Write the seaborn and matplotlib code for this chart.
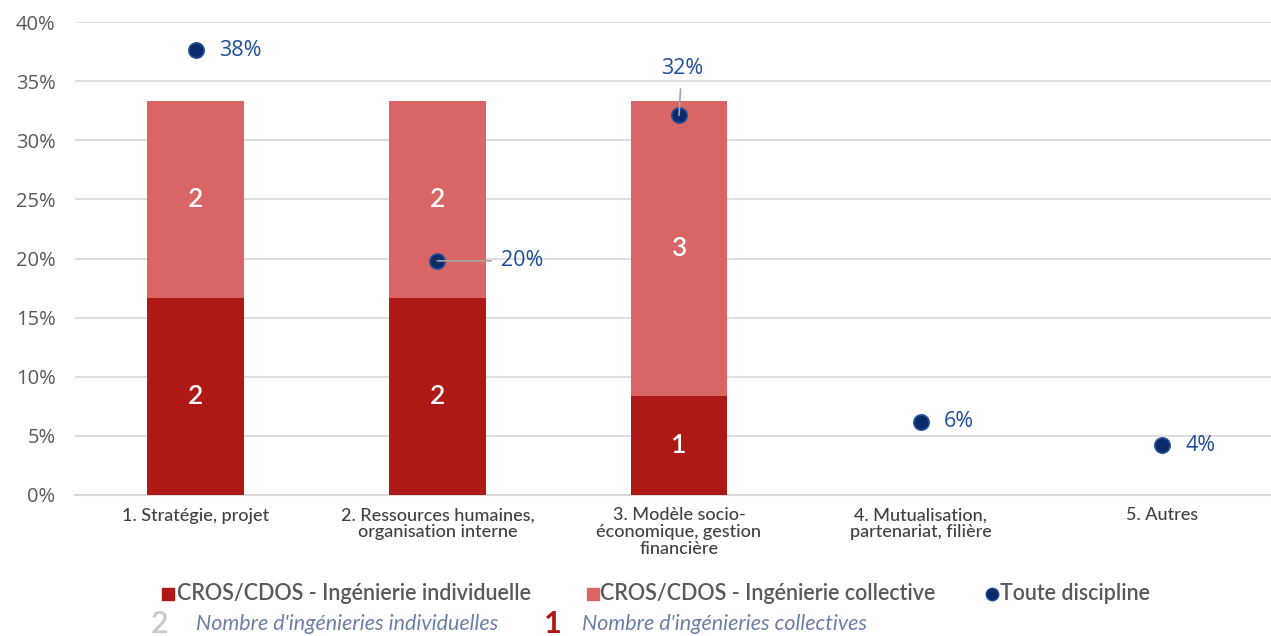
import numpy as np
import matplotlib.pyplot as plt
import seaborn as sns
from matplotlib.lines import Line2D

# Data
categories = ["1. Stratégie, projet",
              "2. Ressources humaines,\norganisation interne",
              "3. Modèle socio-\néconomique, gestion\nfinancière",
              "4. Mutualisation,\npartenariat, filière",
              "5. Autres"]
nb_individuelles = [2, 2, 1, 0, 0]
nb_collectives = [2, 2, 3, 0, 0]
toute_discipline = [37.6, 19.8, 32.1, 6.2, 4.2]
toute_labels = ["38%", "20%", "32%", "6%", "4%"]

total_ing = sum(nb_individuelles) + sum(nb_collectives)
pct_indiv = [n / total_ing * 100 for n in nb_individuelles]
pct_coll = [n / total_ing * 100 for n in nb_collectives]
pct_total = [a + b for a, b in zip(pct_indiv, pct_coll)]

DARK_RED = "#AE1916"
PINK = "#D96565"
NAVY = "#0B2A6A"
LABEL_BLUE = "#1F4E9A"
GRAY_TXT = "#595959"

sns.set_theme(style="white")
plt.rcParams['font.family'] = ['Lato', 'DejaVu Sans']

fig = plt.figure(figsize=(12.71, 6.36), dpi=100)
ax = fig.add_axes([75 / 1271, 141 / 636, 1208 / 1271, 473 / 636])

# stacked bars: total (collective on top) then individual over it
sns.barplot(x=categories, y=pct_total, color=PINK, width=0.4, saturation=1, ax=ax,
            linewidth=0, zorder=2)
sns.barplot(x=categories, y=pct_indiv, color=DARK_RED, width=0.4, saturation=1, ax=ax,
            linewidth=0, zorder=3)

sns.scatterplot(x=categories, y=toute_discipline, color=NAVY, s=120, edgecolor=LABEL_BLUE,
                linewidth=1.2, ax=ax, zorder=5)

# counts inside bars
for i in range(len(categories)):
    if nb_individuelles[i]:
        ax.text(i, pct_indiv[i] / 2, str(nb_individuelles[i]), ha='center', va='center',
                color='white', fontsize=19, fontweight='semibold', zorder=6)
    if nb_collectives[i]:
        ax.text(i, pct_indiv[i] + pct_coll[i] / 2, str(nb_collectives[i]), ha='center',
                va='center', color='white', fontsize=19, fontweight='semibold', zorder=6)

# point labels
offsets = [(17, 0, 'left', 'center', False),
           (46, 0, 'left', 'center', True),
           (2, 34, 'center', 'center', True),
           (17, 0, 'left', 'center', False),
           (17, 0, 'left', 'center', False)]
for i, (dx, dy, ha, va, lead) in enumerate(offsets):
    arrow = dict(arrowstyle='-', color='#A6A6A6', lw=1.2, shrinkA=5, shrinkB=0) if lead else None
    ax.annotate(toute_labels[i], xy=(i, toute_discipline[i]), xytext=(dx, dy),
                textcoords='offset points', ha=ha, va=va, fontsize=15.5, color=LABEL_BLUE,
                family=['Open Sans', 'DejaVu Sans'], fontweight='medium',
                arrowprops=arrow, zorder=6)

ax.set_ylim(0, 40)
ax.set_xlim(-0.5, 4.5)
ax.set_yticks(np.arange(0, 41, 5))
ax.set_yticklabels([f"{v}%" for v in range(0, 41, 5)], fontsize=14.5, color=GRAY_TXT,
                   family=['Open Sans', 'DejaVu Sans'], fontweight='medium')
ax.tick_params(axis='x', labelsize=13, colors='#404040', pad=9, length=0)
ax.tick_params(axis='y', length=0, pad=14)
for lbl in ax.get_xticklabels():
    lbl.set_linespacing(1.05)
    lbl.set_fontweight('medium')
ax.yaxis.grid(True, color='#D9D9D9', lw=1.2, zorder=0)
ax.set_axisbelow(True)
for s in ['top', 'right', 'left']:
    ax.spines[s].set_visible(False)
ax.spines['bottom'].set_color('#D9D9D9')
ax.spines['bottom'].set_linewidth(1.5)
ax.set_xlabel('')
ax.set_ylabel('')

# legend row 1
def fx(px):
    return px / 1271

def fy(py):
    return 1 - py / 636

row1 = 594
leg_font = dict(fontsize=15.5, color=GRAY_TXT, va='center', fontweight='semibold')
fig.add_artist(Line2D([fx(168)], [fy(row1)], marker='s', color=DARK_RED, ms=9, ls=''))
fig.text(fx(177), fy(row1), "CROS/CDOS - Ingénierie individuelle", **leg_font)
fig.add_artist(Line2D([fx(593)], [fy(row1)], marker='s', color=PINK, ms=9, ls=''))
fig.text(fx(600), fy(row1), "CROS/CDOS - Ingénierie collective", **leg_font)
fig.add_artist(Line2D([fx(992)], [fy(row1)], marker='o', color=NAVY, mec=LABEL_BLUE, ms=9, ls=''))
fig.text(fx(1000), fy(row1), "Toute discipline", **leg_font)

# legend row 2
row2 = 624
fig.text(fx(160), fy(row2), "2", fontsize=22, color='#C9C9C9', va='center', ha='center',
         fontweight='semibold')
fig.text(fx(196), fy(row2), "Nombre d'ingénieries individuelles", fontsize=15.5,
         color='#6B7FA6', va='center', style='italic')
fig.text(fx(553), fy(row2), "1", fontsize=22, color=DARK_RED, va='center', ha='center',
         fontweight='bold')
fig.text(fx(582), fy(row2), "Nombre d'ingénieries collectives", fontsize=15.5,
         color='#6B7FA6', va='center', style='italic')

fig.savefig("out.png", dpi=100)
